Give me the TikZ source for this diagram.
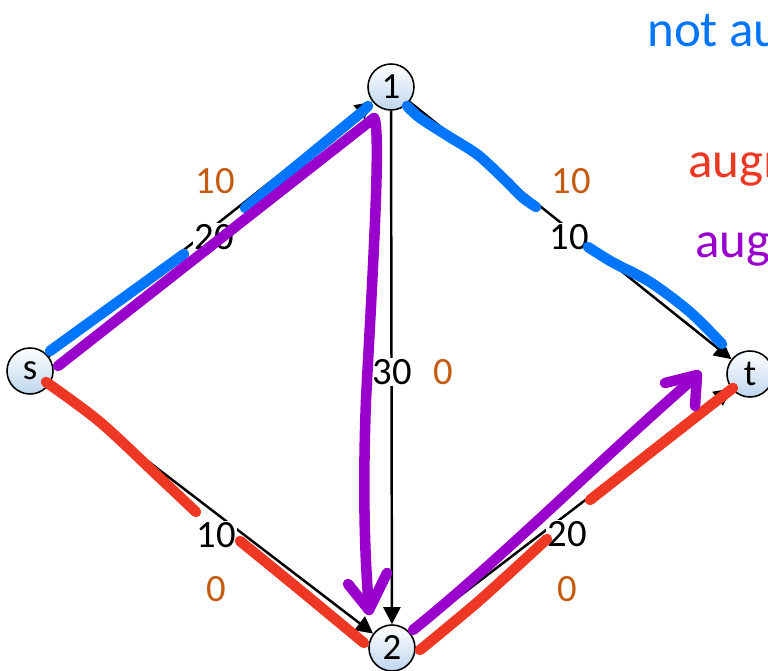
\documentclass[tikz,border=0pt]{standalone}
\usepackage{fontspec}
\setmainfont{Carlito}
\usetikzlibrary{arrows.meta, calc}
\definecolor{azulmano}{RGB}{0,118,255}
\definecolor{rojomano}{RGB}{238,56,36}
\definecolor{moradomano}{RGB}{153,0,204}
\definecolor{naranja}{RGB}{197,90,17}
\definecolor{nodoazul}{RGB}{190,214,238}

\begin{document}
\begin{tikzpicture}[
            % Escala en pixeles de la imagen
            x=0.02cm, y=-0.02cm,
            vertice/.style={circle, draw=black, line width=0.9pt, minimum size=0.92cm, inner sep=0pt, top color=white, bottom color=nodoazul, font=\fontsize{21}{24}\selectfont},
            arista/.style={line width=1.4pt, -{Triangle[length=0.34cm, width=0.34cm]}},
            capac/.style={fill=white, inner sep=1pt, font=\fontsize{22}{26}\selectfont},
            flujo/.style={text=naranja, inner sep=1pt, font=\fontsize{22}{26}\selectfont},
            trazo/.style={line width=6pt, line cap=round, line join=round},
            nota/.style={anchor=base west, inner sep=0pt, font=\fontsize{29}{32}\selectfont}
        ]
            \path[use as bounding box] (0,0) rectangle (768,671);
            \clip (0,0) rectangle (768,671);

            % Vertices
            \node (s) [vertice] at (30,371) {s};
            \node (n1) [vertice] at (391,87) {1};
            \node (t) [vertice] at (750,374) {t};
            \node (n2) [vertice] at (392,648) {2};

            % Aristas
            \draw [arista] (s) -- (n1);
            \draw [arista] (n1) -- (t);
            \draw [arista] (n1) -- (n2);
            \draw [arista] (s) -- (n2);
            \draw [arista] (n2) -- (t);

            % Capacidades
            \node (c1) [capac] at (214,237) {20};
            \node (c2) [capac] at (569,237) {10};
            \node (c3) [capac] at (392,372) {30};
            \node (c4) [capac] at (216,535) {10};
            \node (c5) [capac] at (567,534) {20};

            % Flujos
            \node (f1) [flujo] at (215,181) {10};
            \node (f2) [flujo] at (571,181) {10};
            \node (f3) [flujo] at (443,372) {0};
            \node (f4) [flujo] at (216,589) {0};
            \node (f5) [flujo] at (567,589) {0};

            % Caminos a mano
            \draw [trazo, azulmano] (50,351) -- (184,254);
            \draw [trazo, azulmano] (245,208) -- (362,112) -- (368,106);
            \draw [trazo, azulmano] plot[smooth] coordinates {(407,106) (420,118) (448,136) (478,155) (505,180) (522,197) (536,207)};
            \draw [trazo, azulmano] plot[smooth] coordinates {(588,247) (612,262) (650,282) (690,312) (722,344)};

            \draw [trazo, rojomano] plot[smooth] coordinates {(46,382) (100,422) (160,478) (196,512)};
            \draw [trazo, rojomano] plot[smooth] coordinates {(240,541) (300,590) (364,643)};
            \draw [trazo, rojomano] plot[smooth] coordinates {(420,650) (480,600) (547,539)};
            \draw [trazo, rojomano] plot[smooth] coordinates {(590,500) (660,445) (733,388)};

            \draw [trazo, moradomano] (58,366) -- (374,118) .. controls (382,128) and (371,300) .. (366,400) .. controls (363,480) and (364,550) .. (369,608);
            \draw [trazo, moradomano] (348,584) -- (369,610) -- (387,573);
            \draw [trazo, moradomano] (413,630) .. controls (500,560) and (600,460) .. (693,379);
            \draw [trazo, moradomano] (665,383) -- (697,375) -- (695,406);

            % Notas
            \node (na) [nota, text=azulmano] at (647,47) {not au};
            \node (ar) [nota, text=rojomano] at (688,178) {augm};
            \node (am) [nota, text=moradomano] at (695,258) {augm};
        \end{tikzpicture}
\end{document}
